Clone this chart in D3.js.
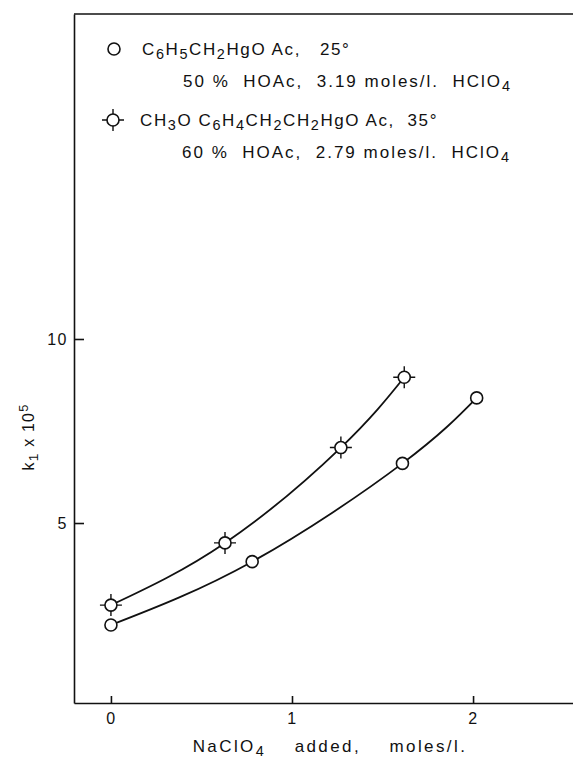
<!DOCTYPE html>
<html><head><meta charset="utf-8">
<script src="https://cdn.jsdelivr.net/npm/d3@7"></script>
<style>
body{margin:0;background:#fff;}
svg{display:block;font-family:"Liberation Sans",Arial,sans-serif;}
svg text{white-space:pre;}
</style></head>
<body><svg id="c" width="573" height="762"></svg>
<script>
// Data
const benzylX = [0, 0.78, 1.61, 2.02];
const benzylY = [2.23, 3.95, 6.62, 8.40];
const methoxyX = [0, 0.63, 1.27, 1.62];
const methoxyY = [2.77, 4.46, 7.05, 8.96];
const xTicks = [0, 1, 2];
const yTicks = [5, 10];

const svg = d3.select("#c");
const L = 74, R = 573, T = 14, B = 703;
const x = d3.scaleLinear().domain([-0.204, 2.552]).range([L, R]);
const y = d3.scaleLinear().domain([0.11, 18.83]).range([B, T]);

const ink = "#111";
const fs = 16;

// axes
const xa = svg.append("g").attr("transform", `translate(0,${B})`)
  .call(d3.axisBottom(x).tickValues(xTicks).tickSize(-7).tickSizeOuter(0).tickPadding(10).tickFormat(d3.format("d")));
const ya = svg.append("g").attr("transform", `translate(${L},0)`)
  .call(d3.axisLeft(y).tickValues(yTicks).tickSize(-10).tickSizeOuter(0).tickPadding(6).tickFormat(d3.format("d")));
[xa, ya].forEach(g => {
  g.selectAll("path,line").attr("stroke", ink).attr("stroke-width", 1.6);
  g.selectAll("text").attr("fill", ink).style("font-size", fs + "px").style("font-family", '"Liberation Sans",Arial,sans-serif').attr("letter-spacing", 1.5);
});
// top frame line
svg.append("line").attr("x1", L).attr("x2", R).attr("y1", T).attr("y2", T).attr("stroke", ink).attr("stroke-width", 1.6);

// curves
const line = d3.line().x(d => x(d[0])).y(d => y(d[1])).curve(d3.curveNatural);
const s1 = benzylX.map((v, i) => [v, benzylY[i]]);
const s2 = methoxyX.map((v, i) => [v, methoxyY[i]]);
[s1, s2].forEach(s => svg.append("path").attr("d", line(s)).attr("fill", "none").attr("stroke", ink).attr("stroke-width", 1.8));

const r = 6;
function marker(g, cx, cy, cross) {
  if (cross) {
    const a = r + 5;
    g.append("path").attr("d", `M${cx - a},${cy}H${cx + a}M${cx},${cy - a}V${cy + a}`).attr("stroke", ink).attr("stroke-width", 1.4);
  }
  g.append("circle").attr("cx", cx).attr("cy", cy).attr("r", r).attr("fill", "#fff").attr("stroke", ink).attr("stroke-width", 1.6);
}
const mg = svg.append("g");
s1.forEach(d => marker(mg, x(d[0]), y(d[1]), false));
s2.forEach(d => marker(mg, x(d[0]), y(d[1]), true));

// rich text helper: parts [text, mode] mode: 0 normal, -1 sub, 1 sup
function rich(xp, yp, parts, opts = {}) {
  const t = svg.append("text").attr("x", xp).attr("y", yp).attr("fill", ink)
    .style("font-size", (opts.size || 17) + "px").attr("letter-spacing", opts.ls ?? 2);
  if (opts.transform) t.attr("transform", opts.transform);
  if (opts.anchor) t.attr("text-anchor", opts.anchor);
  parts.forEach(([s, m]) => {
    const sp = t.append("tspan").text(s);
    if (m === -1) sp.attr("baseline-shift", "-30%").style("font-size", "0.85em");
    if (m === 1) sp.attr("baseline-shift", "45%").style("font-size", "0.8em");
  });
  return t;
}

// legend
marker(svg, 114, 49, false);
rich(142, 55, [["C", 0], ["6", -1], ["H", 0], ["5", -1], ["CH", 0], ["2", -1], ["HgO Ac,   25°", 0]], {ls: 1.6});
rich(183, 87, [["50 %  HOAc,  3.19 moles/l.  HClO", 0], ["4", -1]]);
marker(svg, 113, 120, true);
rich(140, 126, [["CH", 0], ["3", -1], ["O C", 0], ["6", -1], ["H", 0], ["4", -1], ["CH", 0], ["2", -1], ["CH", 0], ["2", -1], ["HgO Ac,  35°", 0]], {ls: 1.6});
rich(182, 158, [["60 %  HOAc,  2.79 moles/l.  HClO", 0], ["4", -1]]);

// axis titles
rich(330, 752, [["NaClO", 0], ["4", -1], ["    added,    moles/l.", 0]], {size: 17, anchor: "middle", ls: 2.4});
rich(0, 0, [["k", 0], ["1", -1], [" x 10", 0], ["5", 1]], {size: 16, anchor: "middle", ls: 1.2, transform: "translate(34,437) rotate(-90)"});
</script></body></html>
